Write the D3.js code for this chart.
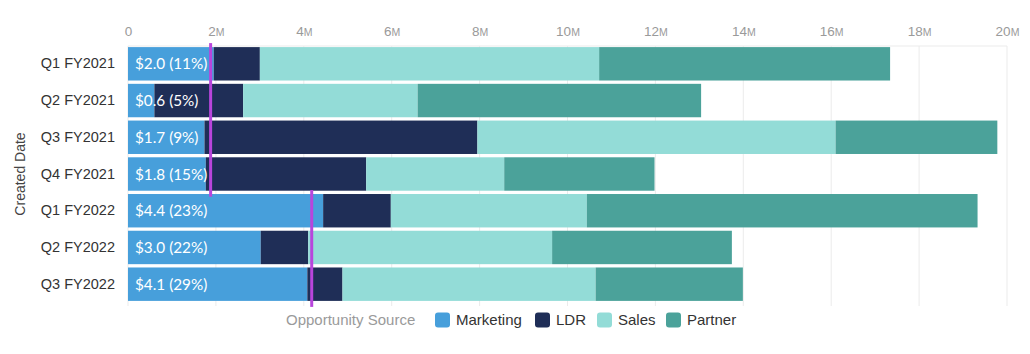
<!DOCTYPE html>
<html>
<head>
<meta charset="utf-8">
<script src="https://cdn.jsdelivr.net/npm/d3@7"></script>
<style>
  body { margin: 0; background: #fff; }
  svg { display: block; }
  .tick text { font-family: "Liberation Sans", Arial, sans-serif; }
</style>
</head>
<body>
<svg width="1030" height="354"></svg>
<script>
// data, in millions
let quarters = ['Q1 FY2021', 'Q2 FY2021', 'Q3 FY2021', 'Q4 FY2021', 'Q1 FY2022', 'Q2 FY2022', 'Q3 FY2022'];
let sources = ['Marketing', 'LDR', 'Sales', 'Partner'];
let marketing = [1.95, 0.60, 1.74, 1.77, 4.44, 3.02, 4.08];
let ldr       = [1.05, 2.02, 6.21, 3.65, 1.54, 1.08, 0.80];
let sales     = [7.72, 3.97, 8.15, 3.14, 4.46, 5.55, 5.76];
let partner   = [6.62, 6.45, 3.68, 3.42, 8.89, 4.09, 3.35];
let marketingLabels = ['$2.0 (11%)', '$0.6 (5%)', '$1.7 (9%)', '$1.8 (15%)', '$4.4 (23%)', '$3.0 (22%)', '$4.1 (29%)'];
let xTicks = [0, 2, 4, 6, 8, 10, 12, 14, 16, 18, 20];
// purple reference lines: value and the quarters they span
let targetValues = [1.88, 4.18];
let targetFrom = ['Q1 FY2021', 'Q1 FY2022'];
let targetTo = ['Q4 FY2021', 'Q3 FY2022'];

let colors = ['#479fdb', '#1f2e57', '#93dcd7', '#4ba29a'];

let svg = d3.select('svg');
let margin = {top: 46, right: 23, bottom: 52, left: 128},
  width = +svg.attr('width') - margin.left - margin.right,
  height = +svg.attr('height') - margin.top - margin.bottom;

let g = svg.append('g').attr('transform', `translate(${margin.left},${margin.top})`);

let x = d3.scaleLinear().domain([0, 20]).range([0, width]);
let y = d3.scaleBand().domain(quarters).range([0, height]).paddingInner(0.09).paddingOuter(0.03);

// stack the rows
let rows = quarters.map((q, i) => ({q: q, Marketing: marketing[i], LDR: ldr[i], Sales: sales[i], Partner: partner[i]}));
let stacked = d3.stack().keys(sources)(rows);

// grid lines
g.append('g')
  .selectAll('line')
  .data(xTicks)
  .enter().append('line')
  .attr('x1', d => x(d)).attr('x2', d => x(d))
  .attr('y1', 0).attr('y2', height + 4)
  .attr('stroke', '#ebebeb')
  .attr('stroke-width', 1);

g.append('line')
  .attr('x1', 0).attr('x2', width)
  .attr('y1', 0).attr('y2', 0)
  .attr('stroke', '#ebebeb');

// top axis labels
let xAxis = g.append('g')
  .call(d3.axisTop(x).tickValues(xTicks).tickSize(0).tickPadding(10).tickFormat(''));
xAxis.select('.domain').remove();
xAxis.selectAll('.tick').append('text')
  .attr('y', -10)
  .attr('text-anchor', 'middle')
  .attr('fill', '#9a9a9a')
  .attr('font-size', 13.5)
  .each(function(d) {
    let t = d3.select(this);
    t.append('tspan').text(d);
    if (d !== 0) t.append('tspan').attr('font-size', 10.5).text('M');
  });

// y axis
let yAxis = g.append('g')
  .call(d3.axisLeft(y).tickSize(0).tickPadding(13));
yAxis.select('.domain').remove();
yAxis.selectAll('text')
  .attr('font-size', 14.5)
  .attr('fill', '#333');

svg.append('text')
  .attr('transform', `translate(25,${margin.top + height / 2}) rotate(-90)`)
  .attr('text-anchor', 'middle')
  .attr('font-family', '"Liberation Sans", Arial, sans-serif')
  .attr('font-size', 14)
  .attr('fill', '#444')
  .text('Created Date');

// bars
g.selectAll('.layer')
  .data(stacked)
  .enter().append('g')
  .attr('class', 'layer')
  .attr('fill', (d, i) => colors[i])
  .selectAll('rect')
  .data(d => d)
  .enter().append('rect')
  .attr('x', d => x(d[0]))
  .attr('y', d => y(d.data.q))
  .attr('width', d => x(d[1]) - x(d[0]))
  .attr('height', y.bandwidth());

// marketing labels
g.selectAll('.mlabel')
  .data(quarters)
  .enter().append('text')
  .attr('class', 'mlabel')
  .attr('x', 7)
  .attr('y', d => y(d) + y.bandwidth() / 2)
  .attr('dy', '0.36em')
  .attr('fill', '#fff')
  .attr('font-family', 'Lato, "Open Sans", sans-serif')
  .attr('font-size', 15.3)
  .text((d, i) => marketingLabels[i]);

// purple target lines
g.selectAll('.target')
  .data(targetValues)
  .enter().append('line')
  .attr('class', 'target')
  .attr('x1', d => x(d)).attr('x2', d => x(d))
  .attr('y1', (d, i) => y(targetFrom[i]) - 4)
  .attr('y2', (d, i) => y(targetTo[i]) + y.bandwidth() + 6)
  .attr('stroke', '#b845dc')
  .attr('stroke-width', 3);

// legend
let legend = svg.append('g')
  .attr('transform', 'translate(0,320)')
  .attr('font-family', '"Liberation Sans", Arial, sans-serif')
  .attr('font-size', 15);

legend.append('text')
  .attr('x', 286).attr('dy', '0.35em')
  .attr('fill', '#9a9a9a')
  .text('Opportunity Source');

let legendX = [435, 535, 597, 666];
let items = legend.selectAll('.item')
  .data(sources)
  .enter().append('g')
  .attr('class', 'item')
  .attr('transform', (d, i) => `translate(${legendX[i]},0)`);

items.append('rect')
  .attr('x', 0).attr('y', -7.5)
  .attr('width', 15).attr('height', 15)
  .attr('rx', 3)
  .attr('fill', (d, i) => colors[i]);

items.append('text')
  .attr('x', 21).attr('dy', '0.35em')
  .attr('fill', '#333')
  .text(d => d);
</script>
</body>
</html>
